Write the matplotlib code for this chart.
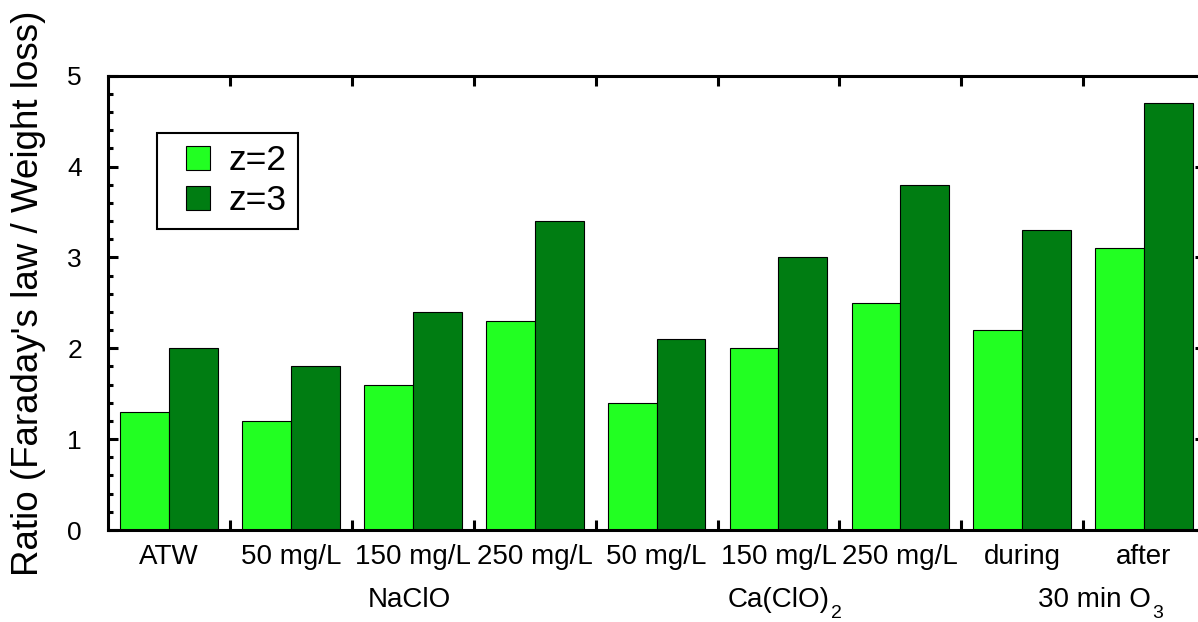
import matplotlib
matplotlib.use('Agg')
import matplotlib.pyplot as plt
import matplotlib.transforms as mtransforms
from matplotlib.lines import Line2D
import numpy as np

plt.rcParams['font.family'] = ['Liberation Sans', 'DejaVu Sans']

# data
conditions = ['ATW', '50 mg/L', '150 mg/L', '250 mg/L', '50 mg/L', '150 mg/L', '250 mg/L', 'during', 'after']
z2 = [1.3, 1.2, 1.6, 2.3, 1.4, 2.0, 2.5, 2.2, 3.1]
z3 = [2.0, 1.8, 2.4, 3.4, 2.1, 3.0, 3.8, 3.3, 4.7]
groups = ['NaClO', 'Ca(ClO)', '30 min O']
group_sub = ['', '2', '3']
group_x = [1.97, 5.0, 7.59]

light = '#22FF22'
dark = '#007D12'

fig = plt.figure(figsize=(11.98, 6.22), dpi=100)
ax = fig.add_axes([0.0904, 0.1479, 0.9154, 0.7304])

x = np.arange(len(conditions))
w = 0.4
ax.bar(x - w / 2, z2, width=w, color=light, edgecolor='black', linewidth=0.8)
ax.bar(x + w / 2, z3, width=w, color=dark, edgecolor='black', linewidth=0.8)

ax.set_xlim(-0.5, len(conditions) - 0.5)
ax.set_ylim(0, 5)

for s in ax.spines.values():
    s.set_linewidth(2.2)

# ticks between groups, labels at group centres
ax.set_xticks(np.arange(0.5, len(conditions) - 1, 1.0))
ax.set_xticklabels([])
ax.set_xticks(x, minor=True)
ax.set_xticklabels(conditions, minor=True, fontsize=20)
ax.tick_params(axis='x', which='major', direction='in', length=7.2, width=2.2, top=True, bottom=True)
ax.tick_params(axis='x', which='minor', length=0, pad=10)

ax.set_yticks(np.arange(0, 5.1, 1))
ax.set_yticks(np.arange(0, 5.01, 0.2), minor=True)
ax.tick_params(axis='y', which='major', direction='in', length=7.2, width=2.2, left=True, right=True,
               labelsize=19, pad=19)
ax.tick_params(axis='y', which='minor', direction='in', length=3.6, width=2.2, left=True, right=True)

trans = mtransforms.blended_transform_factory(ax.transData, fig.transFigure)
for gx, g, sub in zip(group_x, groups, group_sub):
    t = ax.text(gx, 0.035, g, transform=trans, ha='center', va='center', fontsize=20)
    if sub:
        ax.annotate(sub, xy=(1, 0), xycoords=t, xytext=(1, 0), textcoords='offset points',
                    ha='left', va='center', fontsize=14)

ax.set_ylabel("Ratio (Faraday's law / Weight loss)", fontsize=26.5)
ax.yaxis.set_label_coords(-0.0565, 0.52)

handles = [Line2D([], [], linestyle='none', marker='s', markersize=17.3, markerfacecolor=light,
                  markeredgecolor='black', markeredgewidth=0.8),
           Line2D([], [], linestyle='none', marker='s', markersize=17.3, markerfacecolor=dark,
                  markeredgecolor='black', markeredgewidth=0.8)]
leg = ax.legend(handles, ['z=2', 'z=3'], loc='upper left', bbox_to_anchor=(156.7 / 1198, 1 - 132.7 / 622),
                bbox_transform=fig.transFigure, fontsize=25.5, frameon=True, fancybox=False, framealpha=1,
                handlelength=1.7, handletextpad=0.0, labelspacing=0.2,
                borderpad=0.33, borderaxespad=0)
leg.get_frame().set_edgecolor('black')
leg.get_frame().set_linewidth(1.5)

fig.savefig('out.png', dpi=100)
